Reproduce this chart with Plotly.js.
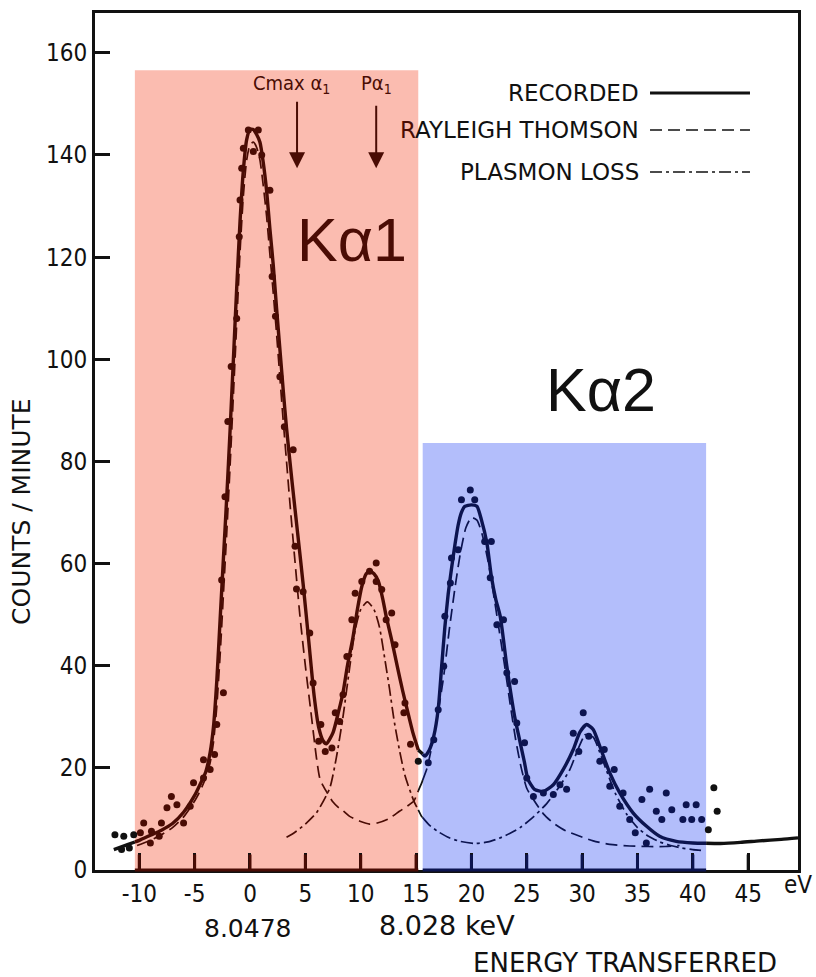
<!DOCTYPE html>
<html><head><meta charset="utf-8">
<script src="https://cdn.plot.ly/plotly-3.0.1.min.js"></script>
<style>html,body{margin:0;padding:0;background:#fff}#chart{width:816px;height:977px}</style>
</head><body><div id="chart"></div>
<script>
// Recorded curve (solid)
const recX = [-12.3,-11,-10,-9,-8,-7,-6,-5,-4.5,-4,
  -3.6,-3.3,-3.0,-2.7,-2.4,-2.1,-1.8,-1.5,-1.2,-0.9,
  -0.6,-0.3,0,0.3,0.6,0.9,1.2,1.5,1.8,2.1,
  2.4,2.7,3.0,3.3,3.8,4.3,4.8,5.3,5.8,6.2,
  6.6,6.9,7.5,8.0,8.4,8.8,9.3,9.7,10.1,10.5,
  10.8,11.2,11.6,12.0,12.3,12.8,13.3,13.8,14.2,14.7,
  15.2,15.8,16.2,16.6,17.0,17.3,17.6,17.9,18.2,18.5,
  18.8,19.1,19.4,20.0,20.5,20.9,21.4,21.8,22.2,22.6,
  23.2,23.9,24.4,24.8,25.1,25.7,26.5,27.4,28.3,29.2,
  29.8,30.4,31.0,31.6,32.5,33.4,34.6,35.8,37.0,38.5,
  40.0,42.5,44.3,46,48,49.5];
const recY = [4.0,5.0,5.8,6.8,7.8,9.1,11.3,14.6,16.8,19.2,
  23,28,37,49,61,73,86,100,114,127,
  137,143,145,145,144,142.5,138.5,133,125.5,118.5,
  110,102,94,86.5,76,66,56,45,34,28,
  25.3,24.7,26.9,31,34.7,40,45.5,51,55.5,58,
  58.5,58,56.5,53,49.7,45,39.9,35,31.4,27,
  23.5,22.3,23.5,26.2,31.5,39.5,47.5,54,59,63.5,
  67.5,70,71.2,71.5,71.2,68.6,64,57.5,53,49.7,
  39.9,30.1,25,21,17.8,15.8,15.4,16.7,19.7,23.6,
  27,28.5,27.5,24.2,19.0,15.1,11.2,8.6,6.6,5.6,
  5.3,5.2,5.4,5.7,6.0,6.3];

// Rayleigh Thomson (dashed)
const rayX = [-10.2,-9,-8,-7,-6,-5,-4.5,-4,-3.6,-3.3,
  -3.0,-2.7,-2.4,-2.1,-1.8,-1.5,-1.2,-0.9,-0.6,-0.3,
  0,0.3,0.6,0.9,1.2,1.5,1.8,2.1,2.4,2.7,
  3.0,3.3,3.6,4.0,4.5,5.0,5.5,6.0,6.3,6.6,
  7.0,7.5,8.0,8.4,9.0,10.0,10.8,11.5,12.5,13.5,
  14.2,14.8,15.5,16.0,16.5,17.0,17.5,18.0,18.5,19.0,
  19.5,20.0,20.5,21.0,21.5,22.0,22.5,23.0,23.5,24.0,
  24.5,25.0,25.6,26.5,27.4,28.5,29.8,31.0,32.5,34.3,
  36.0,37.5,38.8];
const rayY = [4.8,5.8,6.9,8.3,10.4,13.5,15.5,18,21,25,
  32,42,54,66,79,93,107,121,132,139,
  142,142.5,141.5,139,134,128,120.5,113,105,96.5,
  88,80,72,62,50,40,31,22,18,16.5,
  15,13.3,12.2,11.6,10.5,9.5,9.0,9.2,10,11.5,
  12.5,13.5,17,20,25,31,38,47,55,62,
  67,69,68.5,65.5,60.5,54,47,40,32.5,25.5,
  20,16,13.8,11,9.2,7.7,6.6,5.7,5.0,4.7,
  4.6,4.6,4.8];

// Plasmon loss (dash-dot)
const plasX = [3.3,4.0,5.0,6.0,7.2,7.8,8.4,8.9,9.5,10.0,
  10.6,11.2,11.7,12.2,12.6,13.0,13.5,14.0,14.8,15.5,
  16.2,17.0,18.0,19.0,20.3,21.5,22.5,23.5,24.4,25.5,
  26.8,28.0,28.9,29.6,30.3,31.0,31.6,32.2,33.0,34.0,
  35.0,36.0,37.0,38.0,39.0,40.0,41.0];
const plasY = [6.4,7.3,9.0,11.2,16,22,30,38,47,51,
  52.5,51,47.5,41,35.5,29.5,23.5,18.5,13.5,10.5,
  8.8,7.5,6.3,5.6,5.2,5.5,6.2,7.2,8.3,10.2,
  13,16.5,19.7,23.5,26.5,26,23,19.5,15,11,
  8.3,6.6,5.5,4.8,4.3,4.0,3.8];

// Measured points
const dotX = [-12.2,-11.6,-11.4,-10.9,-10.5,-9.9,-9.6,-9.0,-8.9,-8.2,
  -8.0,-7.5,-7.1,-6.6,-6.0,-5.4,-5.1,-4.2,-4.2,-3.6,
  -3.2,-3.0,-2.4,-2.56,-2.26,-2.0,-1.7,-1.2,-0.97,-0.9,
  -0.75,-0.6,-0.15,0.75,0.3,1.06,1.8,2.0,2.3,2.7,
  3.1,3.9,4.07,4.2,4.8,5.4,5.7,6.4,6.2,6.8,
  7.4,7.7,8.1,8.4,8.75,9.2,9.5,10.1,10.8,11.4,
  11.4,11.9,12.3,12.8,13.1,13.9,14.0,14.5,15.2,16.1,
  16.6,17.0,17.5,17.6,18.1,18.2,18.8,19.1,19.9,20.3,
  21.2,21.8,21.7,22.3,22.9,23.2,23.9,24.1,24.8,25.0,
  25.6,26.5,27.4,28.0,28.6,29.2,29.7,30.1,30.6,31.6,
  32.0,32.5,32.9,33.4,33.7,34.3,34.8,35.4,35.8,36.1,
  36.7,37.2,37.6,38.1,39.1,39.4,39.9,40.3,40.8,41.4,
  41.9,42.2];
const dotY = [6.9,4.0,6.6,4.3,6.9,7.3,9.2,5.3,7.6,6.6,
  9.2,12.2,14.4,12.8,9.2,12.5,17.1,18.0,21.6,19.7,
  22.6,28.5,34.7,56.8,73.1,87.8,98.6,108,124,131.2,
  137.4,141.3,144.9,144.9,140.7,140,133.1,116.2,108.4,96.6,
  86.8,82.3,63.4,55,54.5,46.4,36.6,28.5,25.2,23.2,
  23.9,30.8,29.1,34.3,41.8,49,54.2,56.5,58.5,60.1,
  56.5,54.9,49,50.3,44.1,30.8,32.7,24.6,21.3,21,
  25.5,31.4,39.9,49.7,56.2,61.1,62.7,72.5,74.4,72.5,
  64.3,64.3,57.2,48.0,49.0,38.6,36.9,28.8,24.9,18.0,
  14.4,15.1,14.8,16.7,15.8,26.8,23.2,30.8,26.2,21.3,
  23.6,16.4,19.7,12.5,15.1,9.9,7.3,13.8,5.3,15.8,
  11.5,9.9,15.1,11.8,9.9,12.8,9.9,12.8,9.9,7.9,
  16.1,11.5];

const xTickVals = [-10,-5,0,5,10,15,20,25,30,35,40,45];
const xTickText = ['-10','-5','0','5','10','15','20','25','30','35','40','45'];
const yTickVals = [0,20,40,60,80,100,120,140,160];

// overlay styling
const X_RANGE = [-14.0, 49.5], Y_RANGE = [0, 167.8];
const RED = [-10.4, 15.2], RED_TOP = 156.6;
const BLUE = [15.6, 41.2], BLUE_TOP = 83.6;
const C_BLACK = '#111111', C_RED = '#4a0c04', C_NAVY = '#0c1450';
const F_RED = '#fbbcb0', F_BLUE = '#b3befb';
const FONT_C = '"DejaVu Sans Condensed","Liberation Sans Narrow",sans-serif';
const FONT = '"DejaVu Sans",Verdana,sans-serif';
const TICK_PX = 17;

function regionOf(x){
  if (x < RED[0]) return 0; if (x < RED[1]) return 1;
  if (x < BLUE[0]) return 2; if (x < BLUE[1]) return 3; return 4;
}
const regionColor = [C_BLACK, C_RED, C_BLACK, C_NAVY, C_BLACK];
function pointColor(x, y){
  const r = regionOf(x);
  if (r === 1 && y > RED_TOP) return C_BLACK;
  if (r === 3 && y > BLUE_TOP) return C_BLACK;
  return regionColor[r];
}
function splitLine(xs, ys){
  const cuts = [RED[0], RED[1], BLUE[0], BLUE[1]];
  const segs = []; let cur = null;
  for (let i = 0; i < xs.length - 1; i++){
    const x0 = xs[i], y0 = ys[i], x1 = xs[i+1], y1 = ys[i+1];
    const pts = [[x0, y0]];
    cuts.forEach(c => { if (c > x0 && c < x1) pts.push([c, y0 + (y1 - y0) * (c - x0) / (x1 - x0)]); });
    pts.push([x1, y1]);
    for (let k = 0; k < pts.length - 1; k++){
      const r = regionOf((pts[k][0] + pts[k+1][0]) / 2);
      if (!cur || cur.r !== r){ cur = {r, x: [pts[k][0]], y: [pts[k][1]]}; segs.push(cur); }
      cur.x.push(pts[k+1][0]); cur.y.push(pts[k+1][1]);
    }
  }
  return segs;
}
function lineTraces(xs, ys, width, dash, shape){
  return splitLine(xs, ys).map(s => ({
    x: s.x, y: s.y, type: 'scatter', mode: 'lines', hoverinfo: 'skip', showlegend: false,
    line: {color: regionColor[s.r], width: width, dash: dash, shape: shape, smoothing: 0.6}
  }));
}

const DASH_R = '12px,6px', DASH_P = '12px,4px,3px,4px';
const traces = [].concat(
  lineTraces(rayX, rayY, 1.7, DASH_R, 'spline'),
  lineTraces(plasX, plasY, 1.7, DASH_P, 'spline'),
  lineTraces(recX, recY, 3.4, 'solid', 'spline'),
  [{x: dotX, y: dotY, type: 'scatter', mode: 'markers', showlegend: false, hoverinfo: 'skip',
    marker: {size: 7, color: dotX.map((x, i) => pointColor(x, dotY[i]))}}]
);

const shapes = [
  {type: 'rect', layer: 'below', xref: 'x', yref: 'y', x0: RED[0], x1: RED[1], y0: 0, y1: RED_TOP, fillcolor: F_RED, line: {width: 0}},
  {type: 'rect', layer: 'below', xref: 'x', yref: 'y', x0: BLUE[0], x1: BLUE[1], y0: 0, y1: BLUE_TOP, fillcolor: F_BLUE, line: {width: 0}},
  {type: 'line', layer: 'above', xref: 'x', yref: 'paper', x0: RED[0], x1: RED[1], y0: 0, y1: 0, line: {color: C_RED, width: 3}},
  {type: 'line', layer: 'above', xref: 'x', yref: 'paper', x0: BLUE[0], x1: BLUE[1], y0: 0, y1: 0, line: {color: C_NAVY, width: 3}}
];
// legend samples
const legY = [0.9067, 0.8635, 0.8145];
shapes.push({type: 'line', xref: 'paper', yref: 'paper', x0: 0.7895, x1: 0.9317, y0: legY[0], y1: legY[0], line: {color: C_BLACK, width: 3}});
shapes.push({type: 'line', xref: 'paper', yref: 'paper', x0: 0.7895, x1: 0.9317, y0: legY[1], y1: legY[1], line: {color: C_BLACK, width: 1.6, dash: DASH_R}});
shapes.push({type: 'line', xref: 'paper', yref: 'paper', x0: 0.7895, x1: 0.9317, y0: legY[2], y1: legY[2], line: {color: C_BLACK, width: 1.6, dash: DASH_P}});

function txt(text, x, y, size, color, extra, family){
  return Object.assign({text: text, xref: 'paper', yref: 'paper', x: x, y: y, showarrow: false,
    xanchor: 'center', yanchor: 'middle', font: {family: family || FONT, size: size, color: color}}, extra || {});
}
const annotations = [
  txt('eV', 1.0, -0.0175, 24, C_BLACK, null, FONT_C),
  txt('8.0478', 0.2176, -0.0677, 25, C_BLACK),
  txt('8.028 keV', 0.5007, -0.0642, 27, C_BLACK),
  txt('ENERGY TRANSFERRED', 0.7539, -0.1085, 26, C_BLACK),
  txt('COUNTS / MINUTE', -0.1053, 0.4189, 25, C_BLACK, {textangle: -90}),
  txt('Kα1', 0.3656, 0.7351, 61, C_RED, null, '"Liberation Sans",Arial,sans-serif'),
  txt('Kα2', 0.7198, 0.5601, 61, C_BLACK, null, '"Liberation Sans",Arial,sans-serif'),
  txt('Cmax α<sub>1</sub>', 0.2802, 0.9172, 20, C_RED, null, FONT_C),
  txt('Pα<sub>1</sub>', 0.4011, 0.9172, 20, C_RED, null, FONT_C),
  txt('RECORDED', 0.7767, legY[0], 23, C_BLACK, {xanchor: 'right'}),
  txt('<span style="color:' + C_RED + '">R</span>AYLEIGH THOMSON', 0.7767, legY[1], 23, C_BLACK, {xanchor: 'right'}),
  txt('PLASMON LOSS', 0.7767, legY[2], 23, C_BLACK, {xanchor: 'right'}),
  {xref: 'x', yref: 'y', x: 4.25, y: 137.4, ax: 0, ay: -68, text: '', showarrow: true,
    arrowhead: 2, arrowsize: 1.6, arrowwidth: 2, arrowcolor: C_RED},
  {xref: 'x', yref: 'y', x: 11.4, y: 137.4, ax: 0, ay: -64, text: '', showarrow: true,
    arrowhead: 2, arrowsize: 1.6, arrowwidth: 2, arrowcolor: C_RED}
];
// inward x tick marks as headless arrows anchored at each tick value on the axis
xTickVals.forEach(v => {
  annotations.push({xref: 'x', yref: 'paper', x: v, y: 0, ax: 0, ay: -TICK_PX, text: '',
    showarrow: true, arrowhead: 0, arrowwidth: 3, standoff: 0, startstandoff: 0,
    arrowcolor: pointColor(v, 0)});
});

const layout = {
  width: 816, height: 977,
  margin: {l: 95, r: 18, t: 13, b: 107},
  paper_bgcolor: '#ffffff', plot_bgcolor: '#ffffff',
  showlegend: false,
  xaxis: {range: X_RANGE, showgrid: false, zeroline: false, showline: true, mirror: true,
    linecolor: C_BLACK, linewidth: 3, ticks: 'inside', ticklen: TICK_PX, tickwidth: 3, tickcolor: C_BLACK,
    tickvals: xTickVals, ticktext: xTickText,
    tickfont: {family: FONT_C, size: 24, color: C_BLACK}},
  yaxis: {range: Y_RANGE, showgrid: false, zeroline: false, showline: true, mirror: true,
    linecolor: C_BLACK, linewidth: 3, ticks: 'inside', ticklen: 15, tickwidth: 3, tickcolor: C_BLACK,
    tickvals: yTickVals, tickfont: {family: FONT_C, size: 24, color: C_BLACK}},
  shapes: shapes,
  annotations: annotations
};
Plotly.newPlot('chart', traces, layout, {displayModeBar: false, staticPlot: true});
</script></body></html>
